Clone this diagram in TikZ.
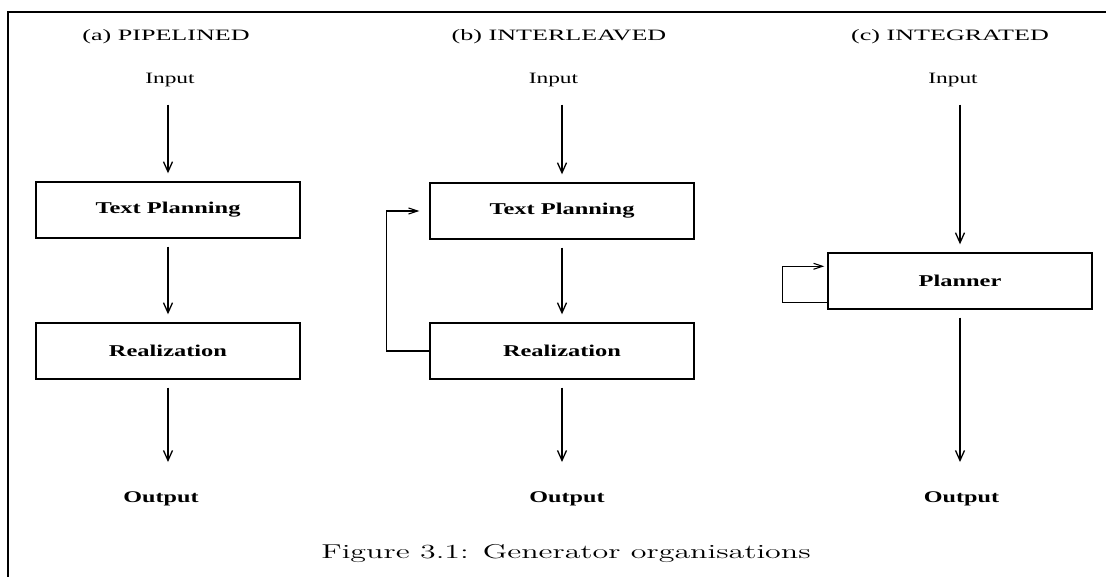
\documentclass[tikz,border=0pt]{standalone}
\usepackage{fontspec}
\usetikzlibrary{arrows.meta}
\newfontfamily\ttlfont[FakeStretch=1.65]{Liberation Serif}
\newfontfamily\lblfont[FakeStretch=1.48]{Liberation Serif}
\newfontfamily\capfont{lmroman12-regular}[Extension=.otf,FakeStretch=1.6]
\begin{document}
\begin{tikzpicture}[x=1pt,y=-1pt,
  ttl/.style={font=\ttlfont\fontsize{15.8}{18}\selectfont, inner sep=0, anchor=base},
  lbl/.style={font=\lblfont\fontsize{15.8}{18}\selectfont, inner sep=0, anchor=base},
  blbl/.style={font=\lblfont\bfseries\fontsize{16.3}{19}\selectfont, inner sep=0, anchor=base},
  box/.style={draw, line width=1.4pt, minimum width=264pt, minimum height=56pt, inner sep=0,
    font=\lblfont\bfseries\fontsize{16.5}{19}\selectfont},
  arr/.style={line width=1.4pt, -{Straight Barb[length=10pt,width=9pt,line width=1.3pt]}},
  farr/.style={line width=1.1pt, -{Straight Barb[length=9pt,width=6pt,line width=1.1pt]}},
  ]
\useasboundingbox (0,0) rectangle (1116,577);
\draw[line width=1.6pt] (8,577) -- (8,12) -- (1106,12);

% (a)
\node[ttl] (tA) at (166,41) {(a) PIPELINED};
\node[lbl] (inA) at (170,84) {Input};
\node[box] (tpA) at (168,210) {Text Planning};
\node[box] (rlA) at (168,351) {Realization};
\node[blbl] (outA) at (161,502) {Output};
\draw[arr, shorten <=17pt, shorten >=8pt] (tpA.north |- inA.south) -- (tpA.north);
\draw[arr, shorten <=8pt, shorten >=8pt] (tpA.south) -- (rlA.north);
\draw[arr, shorten <=8pt, shorten >=29pt] (rlA.south) -- (rlA.south |- outA.north);

% (b)
\node[ttl] (tB) at (559,41) {(b) INTERLEAVED};
\node[lbl] (inB) at (553.5,84) {Input};
\node[box] (tpB) at (562,211) {Text Planning};
\node[box] (rlB) at (562,351) {Realization};
\node[blbl] (outB) at (567,502) {Output};
\draw[arr, shorten <=17pt, shorten >=8pt] (tpB.north |- inB.south) -- (tpB.north);
\draw[arr, shorten <=8pt, shorten >=8pt] (tpB.south) -- (rlB.north);
\draw[arr, shorten <=8pt, shorten >=29pt] (rlB.south) -- (rlB.south |- outB.north);
\draw[farr, shorten >=10pt] (rlB.west) -- ++(-43,0) |- (tpB.west);

% (c)
\node[ttl] (tC) at (950,41) {(c) INTEGRATED};
\node[lbl] (inC) at (953,84) {Input};
\node[box] (pl) at (960,281) {Planner};
\node[blbl] (outC) at (961.5,502) {Output};
\draw[arr, shorten <=17pt, shorten >=8pt] (pl.north |- inC.south) -- (pl.north);
\draw[arr, shorten <=8pt, shorten >=29pt] (pl.south) -- (pl.south |- outC.north);
\draw[farr, shorten >=3pt] ([yshift=7pt]pl.south west) -- ++(-45,0) |- ([yshift=-14pt]pl.north west);

% caption
\node[font=\capfont\fontsize{20}{24}\selectfont, inner sep=0, anchor=base] (cap) at (566,558) {Figure 3.1: Generator organisations};
\end{tikzpicture}
\end{document}
